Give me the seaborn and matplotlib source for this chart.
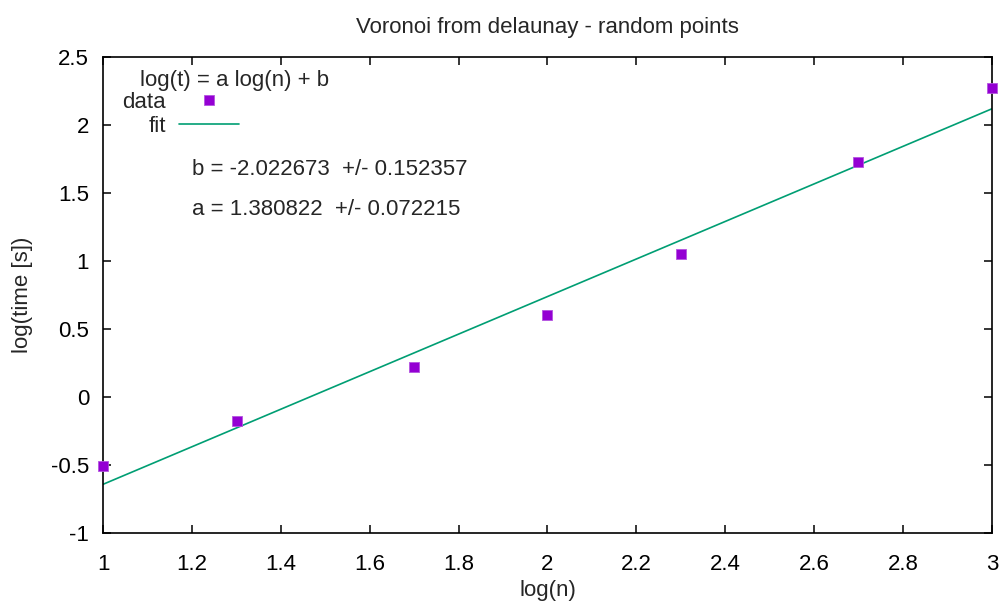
import numpy as np
import pandas as pd
import matplotlib
matplotlib.use("Agg")
import matplotlib.pyplot as plt
import seaborn as sns
from matplotlib.lines import Line2D

# Data
log_n = [1.0, 1.30103, 1.69897, 2.0, 2.30103, 2.69897, 3.0]
log_t = [-0.51, -0.175, 0.222, 0.605, 1.05, 1.727, 2.272]
a_fit = 1.380822
b_fit = -2.022673
a_err = 0.072215
b_err = 0.152357
xticks = [1, 1.2, 1.4, 1.6, 1.8, 2, 2.2, 2.4, 2.6, 2.8, 3]
yticks = [-1, -0.5, 0, 0.5, 1, 1.5, 2, 2.5]

sns.set_style("ticks")
plt.rcParams['font.family'] = ['Liberation Sans', 'DejaVu Sans']
FS = 16
plt.rcParams['font.size'] = FS

purple = "#9400D3"
green = "#009E73"

fig = plt.figure(figsize=(10.05, 6.04), dpi=100)
ax = fig.add_axes([0.1025, 0.1175, 0.8845, 0.788])

df = pd.DataFrame({"x": log_n, "y": log_t})
fit_x = [1.0, 3.0]
fit_df = pd.DataFrame({"x": fit_x, "y": [a_fit * v + b_fit for v in fit_x]})

sns.lineplot(data=fit_df, x="x", y="y", ax=ax, color=green, linewidth=1.2, label="_nolegend_")
sns.scatterplot(data=df, x="x", y="y", ax=ax, color=purple, marker="s", s=52,
                edgecolor="#B455E0", linewidth=0.6, zorder=3, clip_on=False, label="_nolegend_")

ax.set_xlim(1, 3)
ax.set_ylim(-1, 2.5)
ax.set_xticks(xticks)
ax.set_xticklabels([f"{v:g}" for v in xticks])
ax.set_yticks(yticks)
ax.set_yticklabels([f"{v:g}" for v in yticks])
ax.tick_params(direction="in", top=True, right=True, length=6, width=1.1, labelsize=FS,
               colors="black")
ax.tick_params(axis="x", pad=15)
ax.tick_params(axis="y", pad=10)
for s in ax.spines.values():
    s.set_linewidth(1.2)
    s.set_color("black")
ax.set_xlabel("log(n)", fontsize=FS, labelpad=4)
ax.set_ylabel("log(time [s])", fontsize=FS, labelpad=13)
ax.set_title("Voronoi from delaunay - random points", fontsize=FS, pad=17)

handles = [Line2D([], [], marker="s", linestyle="none", color=purple, markersize=7.2,
                  markeredgecolor="#B455E0", markeredgewidth=0.6),
           Line2D([], [], color=green, linewidth=1.2)]
leg = ax.legend(handles, ["data", "fit"], loc="upper left",
                bbox_to_anchor=(0.0214, 0.927), frameon=False, markerfirst=False,
                fontsize=FS, labelspacing=0.14, handlelength=2.7,
                handletextpad=0.6, borderaxespad=0.0, borderpad=0.0)

ax.text(0.0416, 0.939, "log(t) = a log(n) + b", transform=ax.transAxes,
        fontsize=FS, va="baseline", ha="left")
ax.text(0.1, 0.752, f"b = {b_fit:.6f}  +/- {b_err:.6f}", transform=ax.transAxes,
        fontsize=FS, va="baseline", ha="left")
ax.text(0.1, 0.668, f"a = {a_fit:.6f}  +/- {a_err:.6f}", transform=ax.transAxes,
        fontsize=FS, va="baseline", ha="left")

fig.savefig("out.png", dpi=100)
